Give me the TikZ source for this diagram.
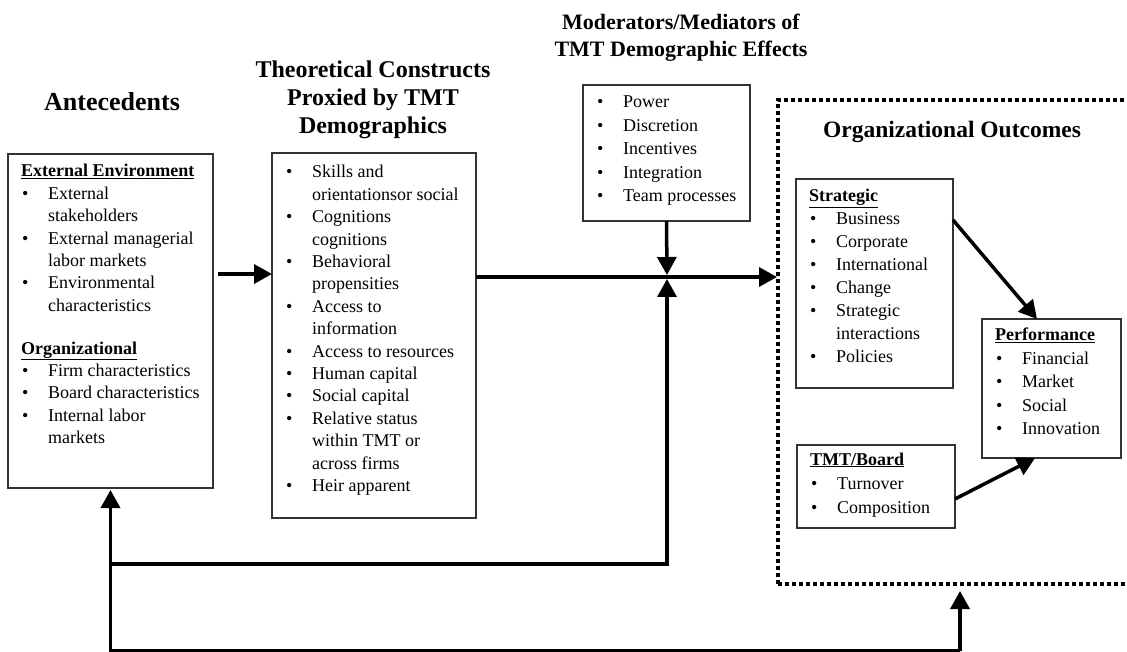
\documentclass[tikz,border=0pt]{standalone}
\usepackage{fontspec}
\setmainfont{Liberation Serif}
\usepackage{array}
\usetikzlibrary{arrows.meta}

% list helpers: bullet column and underlined bold heading row
\newcommand\bl{\hspace{1pt}\textbullet}
\newcommand\hd[1]{\multicolumn{2}{@{}l@{}}{\underline{\textbf{#1}}}}
\newcommand\lst[1]{\begin{tabular}[t]{@{}p{27pt}@{}l@{}}#1\end{tabular}}
\newcommand\ttlines[1]{\begin{tabular}[t]{@{}c@{}}#1\end{tabular}}

\tikzset{
  box/.style={draw=black!80, line width=1.2pt, rectangle, inner sep=0pt, outer sep=0pt, anchor=north west},
  dotbox/.style={draw=black, line width=4pt, dash pattern=on 4pt off 3pt, rectangle, inner sep=0pt, outer sep=0pt, anchor=north west},
  txt/.style={inner sep=0pt, anchor=base west},
  ttl/.style={inner sep=0pt, anchor=base},
  conn/.style={line width=3.5pt, -{Triangle[length=18pt,width=19pt]}},
  link/.style={line width=3.5pt}
}

\begin{document}
\begin{tikzpicture}[x=1pt,y=-1pt]
\useasboundingbox (0,0) rectangle (1127,652);

% column titles
\node[ttl, font=\bfseries\fontsize{26}{30}\selectfont] (tA) at (112,111) {Antecedents};
\node[ttl, font=\bfseries\fontsize{24}{28}\selectfont] (tT) at (373,78)
  {\ttlines{Theoretical Constructs\\Proxied by TMT\\Demographics}};
\node[ttl, font=\bfseries\fontsize{22}{27}\selectfont] (tM) at (681,30)
  {\ttlines{Moderators/Mediators of\\TMT Demographic Effects}};
\node[ttl, font=\bfseries\fontsize{23.5}{28}\selectfont] (tO) at (952,138) {Organizational Outcomes};

% boxes
\node[box, minimum width=205pt, minimum height=334pt] (ante) at (8,154) {};
\node[box, minimum width=204pt, minimum height=365pt] (theo) at (272,153) {};
\node[box, minimum width=167pt, minimum height=136pt] (mod) at (583,85) {};
\node[box, minimum width=157pt, minimum height=209pt] (strat) at (796,179) {};
\node[box, minimum width=139pt, minimum height=139pt] (perf) at (982,319) {};
\node[box, minimum width=158pt, minimum height=83pt] (tmt) at (797,445) {};
\node[dotbox, minimum width=372pt, minimum height=484pt] (outc) at (778,100) {};

% box contents
\node[txt, font=\fontsize{18}{22.4}\selectfont] (anteL) at (21,177) {\lst{%
  \hd{External Environment}\\
  \bl & External\\
      & stakeholders\\
  \bl & External managerial\\
      & labor markets\\
  \bl & Environmental\\
      & characteristics\\[-2pt]
      & \\
  \hd{Organizational}\\
  \bl & Firm characteristics\\
  \bl & Board characteristics\\
  \bl & Internal labor\\
      & markets}};

\node[txt, font=\fontsize{18}{22.4}\selectfont] (theoL) at (285,178) {\lst{%
  \bl & Skills and\\
      & orientationsor social\\
  \bl & Cognitions\\
      & cognitions\\
  \bl & Behavioral\\
      & propensities\\
  \bl & Access to\\
      & information\\
  \bl & Access to resources\\
  \bl & Human capital\\
  \bl & Social capital\\
  \bl & Relative status\\
      & within TMT or\\
      & across firms\\
  \bl & Heir apparent}};

\node[txt, font=\fontsize{18}{23.5}\selectfont] (modL) at (596,108) {\lst{%
  \bl & Power\\
  \bl & Discretion\\
  \bl & Incentives\\
  \bl & Integration\\
  \bl & Team processes}};

\node[txt, font=\fontsize{18}{23}\selectfont] (stratL) at (809,202) {\lst{%
  \hd{Strategic}\\
  \bl & Business\\
  \bl & Corporate\\
  \bl & International\\
  \bl & Change\\
  \bl & Strategic\\
      & interactions\\
  \bl & Policies}};

\node[txt, font=\fontsize{18}{23.5}\selectfont] (perfL) at (995,341) {\lst{%
  \hd{Performance}\\
  \bl & Financial\\
  \bl & Market\\
  \bl & Social\\
  \bl & Innovation}};

\node[txt, font=\fontsize{18}{24}\selectfont] (tmtL) at (810,465) {\lst{%
  \hd{TMT/Board}\\
  \bl & Turnover\\
  \bl & Composition}};

% connector levels
\coordinate (j) at (667,277);
\coordinate (lvA) at (0,274);
\coordinate (lvB) at (0,564);
\coordinate (lvC) at (0,220);
\coordinate (lvD) at (0,499);
\coordinate (fb) at (960,651);

% main flow
\draw[conn] ([xshift=5pt]ante.east |- lvA) -- (theo.west |- lvA);
\draw[conn] (theo.east |- j) -- ([xshift=-1pt]outc.west |- j);
\draw[conn] (mod.south) -- ([yshift=2pt]j);
\draw[conn] (ante.south |- lvB) -| ([yshift=-2pt]j);

% feedback loop along the bottom
\draw[conn] (fb) -| ([yshift=-2pt]ante.south);
\draw[conn] (fb) -- ([yshift=-7pt]outc.south -| fb);

% outcomes to performance
\draw[conn] (strat.east |- lvC) -- ([xshift=55pt]perf.north west);
\draw[conn] (tmt.east |- lvD) -- ([xshift=53pt]perf.south west);
\end{tikzpicture}
\end{document}
